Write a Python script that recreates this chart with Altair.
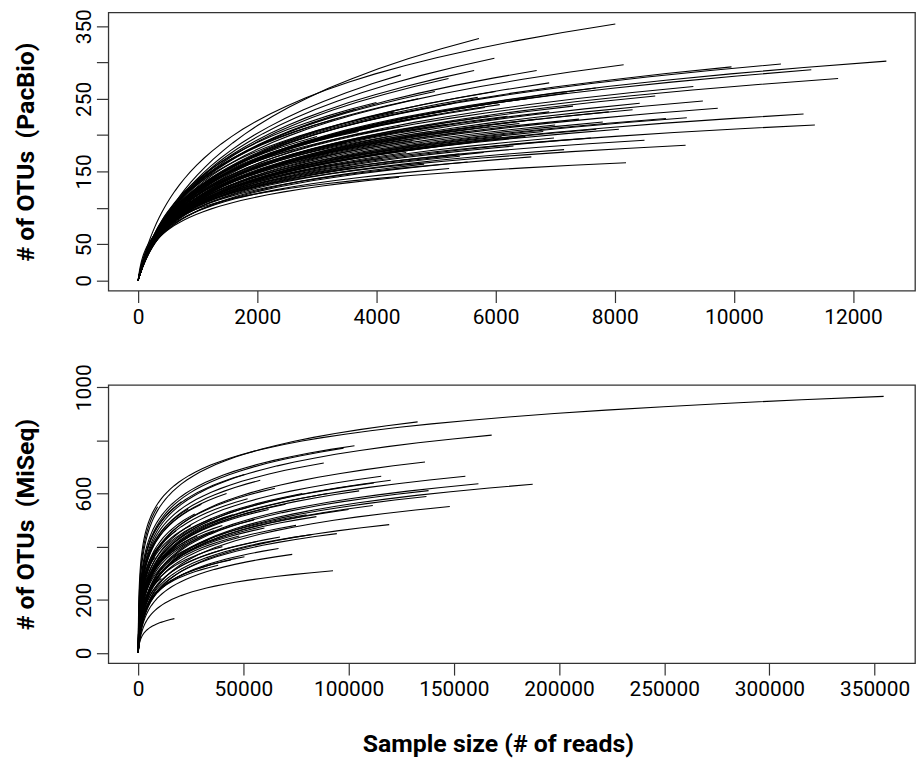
import altair as alt
import numpy as np
import pandas as pd

# ---- PacBio rarefaction curves: end depth (reads), end OTUs, OTUs at half depth ----
pacbio_reads = [8010, 5720, 5980, 5640, 6690, 8150, 9960, 10790, 12560, 11300,
                11750, 9320, 8680, 9480, 9730, 8420, 8860, 9210, 11170, 11360,
                8500, 9190, 8190, 7150, 7690, 8070, 6980, 5530, 5390, 6070,
                6570, 5820, 4410, 5210, 3650, 4760, 4380, 5220, 5400, 4980,
                7680, 6200, 6900, 7300, 6400, 5900, 7400, 6800, 6100, 5600,
                4900, 4600, 4200, 3900, 3500, 3200, 2800, 4500, 5100, 5800,
                6300, 6600, 7000, 7900, 5300, 4700, 4000, 3300, 6000, 6900,
                5000, 4300, 3700, 5500, 6500, 7600, 4100, 3600, 4800, 5900,
                8300, 7200, 4400, 3000, 2600, 5200, 6700, 5700, 4600, 7800]
pacbio_otus = [353, 333, 306, 289, 289, 297, 294, 298, 302, 290,
               278, 267, 254, 247, 237, 244, 223, 224, 229, 214,
               193, 186, 162, 180, 208, 208, 196, 163, 174, 242,
               251, 238, 283, 278, 236, 188, 142, 154, 171, 260,
               265, 226, 232, 240, 216, 212, 222, 205, 198, 190,
               205, 222, 198, 210, 190, 175, 160, 176, 185, 176,
               185, 170, 214, 232, 244, 250, 245, 222, 260, 272,
               228, 232, 205, 205, 198, 196, 168, 155, 160, 226,
               235, 258, 212, 198, 180, 215, 222, 252, 192, 218]
pacbio_half = [285, 252, 236, 224, 228, 238, 240, 245, 250, 240,
               231, 218, 207, 203, 196, 198, 184, 185, 192, 183,
               164, 160, 141, 151, 172, 173, 162, 137, 144, 194,
               201, 190, 212, 214, 179, 152, 118, 129, 142, 203,
               212, 183, 188, 194, 176, 172, 182, 168, 162, 155,
               164, 176, 158, 165, 149, 138, 126, 142, 150, 145,
               153, 142, 175, 190, 193, 196, 190, 171, 206, 216,
               183, 183, 162, 167, 163, 163, 136, 126, 131, 182,
               192, 207, 170, 153, 139, 174, 181, 200, 155, 179]

# ---- MiSeq rarefaction curves ----
miseq_reads = [354300, 132800, 168000, 102800, 97600, 88200, 136300, 115500, 155500, 161700,
               187500, 112000, 138000, 137000, 111500, 148100, 119300, 94400, 82700, 73200,
               66700, 50500, 92600, 17200, 9200, 84700, 67400, 50500, 23800, 20600,
               26900, 33200, 60000, 55000, 45000, 40000, 70000, 78000, 65000, 58000,
               30000, 35000, 28000, 22000, 15000, 12000, 40000, 48000, 100000, 90000,
               75000, 62000, 52000, 42000, 36000, 25000, 18000, 8000, 6000, 11000,
               44000, 38000, 57000, 80000, 105000, 120000]
miseq_otus = [966, 870, 820, 780, 771, 715, 719, 665, 665, 637,
              635, 640, 611, 589, 555, 551, 483, 449, 446, 371,
              393, 362, 309, 129, 550, 513, 436, 672, 542, 569,
              523, 424, 470, 500, 520, 480, 560, 600, 620, 650,
              560, 505, 440, 410, 380, 420, 400, 440, 540, 600,
              480, 540, 580, 600, 460, 480, 460, 360, 300, 280,
              350, 330, 420, 520, 610, 650]
miseq_half = [889, 783, 734, 698, 686, 633, 633, 582, 582, 554,
              552, 557, 529, 509, 477, 474, 413, 384, 381, 315,
              334, 308, 266, 108, 468, 441, 373, 591, 466, 489,
              447, 360, 402, 428, 445, 408, 482, 519, 539, 569,
              482, 432, 374, 346, 321, 357, 340, 374, 464, 519,
              410, 464, 502, 522, 391, 410, 391, 304, 252, 237,
              298, 281, 357, 447, 528, 566]

pacbio_x_ticks = [0, 2000, 4000, 6000, 8000, 10000, 12000]
pacbio_y_ticks = [0, 50, 100, 150, 200, 250, 300, 350]
miseq_x_ticks = [0, 50000, 100000, 150000, 200000, 250000, 300000, 350000]
miseq_y_ticks = [0, 200, 400, 600, 800, 1000]


def solve_u(r):
    lo, hi = -12.0, 18.0
    for _ in range(90):
        mid = (lo + hi) / 2
        u = np.exp(mid)
        f = np.log1p(u / 2) / np.log1p(u)
        if f < r:
            lo = mid
        else:
            hi = mid
    return float(np.exp((lo + hi) / 2))


def build(reads, otus, half):
    t = np.concatenate([[0.0], np.geomspace(1e-4, 1.0, 80)])
    frames = []
    for i, (n, s, h) in enumerate(zip(reads, otus, half)):
        u = solve_u(h / s)
        a = s / np.log1p(u)
        frames.append(pd.DataFrame({
            "curve": i,
            "reads": n * t,
            "otus": a * np.log1p(u * t),
        }))
    return pd.concat(frames, ignore_index=True)


df_top = build(pacbio_reads, pacbio_otus, pacbio_half)
df_bot = build(miseq_reads, miseq_otus, miseq_half)


def panel(df, xt, yt, xdom, ydom, ytitle, hide, xtitle=None):
    xaxis_kwargs = dict(values=xt, format="d", labelOverlap=False, labelFlush=False,
                        labelPadding=4)
    if xtitle:
        xaxis_kwargs.update(title=xtitle, titlePadding=32, titleX=392)
    else:
        xaxis_kwargs.update(title=None)
    cond = " || ".join(f"datum.value == {v}" for v in hide)
    return alt.Chart(df).mark_line(color="black", strokeWidth=1.1, clip=True).encode(
        x=alt.X("reads:Q",
                scale=alt.Scale(domain=xdom, nice=False, zero=False),
                axis=alt.Axis(**xaxis_kwargs)),
        y=alt.Y("otus:Q",
                scale=alt.Scale(domain=ydom, nice=False, zero=False),
                axis=alt.Axis(values=yt, format="d", labelAngle=-90,
                              labelAlign="center", labelBaseline="bottom",
                              labelOverlap=False, labelFlush=False, labelPadding=2,
                              labelExpr=f"({cond}) ? '' : datum.label",
                              title=ytitle, titlePadding=35)),
        detail="curve:N",
    ).properties(width=812, height=280)


top = panel(df_top, pacbio_x_ticks, pacbio_y_ticks, [-501, 13041], [-14.2, 369],
            "# of OTUs\u00a0\u00a0(PacBio)", [100, 200, 300])
bot = panel(df_bot, miseq_x_ticks, miseq_y_ticks, [-14200, 369200], [-38.8, 1008.8],
            "# of OTUs\u00a0\u00a0(MiSeq)", [400, 800], xtitle="Sample size (# of reads)")

chart = alt.vconcat(top, bot, spacing=35).properties(
    padding={"left": 5, "top": -3, "right": 0, "bottom": 0}
).configure_view(
    stroke="#333", strokeWidth=1.3
).configure_axis(
    labelFont="Roboto", labelFontSize=21, labelColor="black",
    tickColor="#333", tickSize=12, tickWidth=1.2,
    domain=False, grid=False,
    titleFont="Roboto", titleFontSize=25, titleFontWeight="bold", titleColor="black",
)

chart.save("out.html", embed_options={"renderer": "svg", "actions": False})
